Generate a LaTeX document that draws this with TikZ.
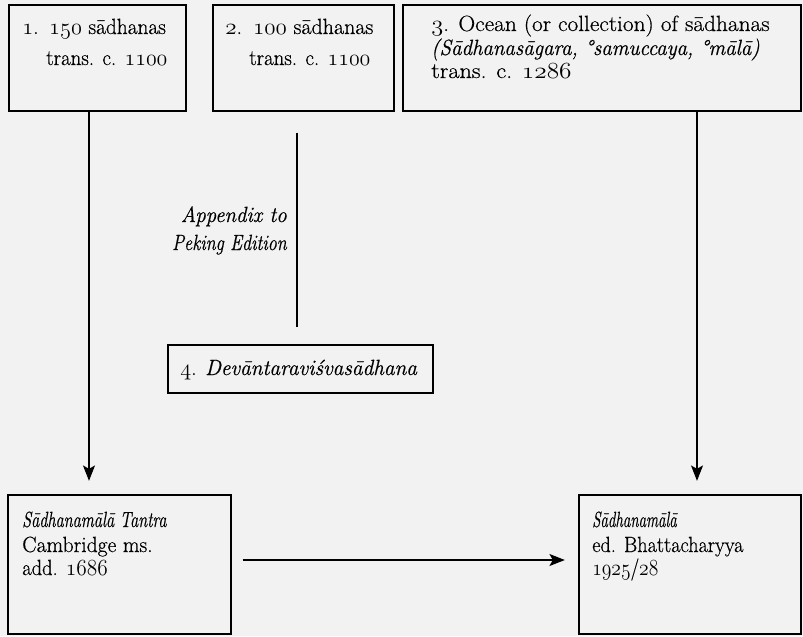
\documentclass[tikz,border=0pt]{standalone}
\usepackage{fontspec}
\usepackage{graphicx}
\setmainfont{Latin Modern Roman}[FakeBold=0.6]
\usetikzlibrary{arrows.meta,fit,calc}
\newcommand\osn[1]{{\usefont{OML}{lmm}{m}{it}#1}}
\newcommand\hsc[2]{\scalebox{#1}[1]{#2}}
\definecolor{pagebg}{RGB}{242,242,242}
\begin{document}
\begin{tikzpicture}[x=0.75pt,y=-0.75pt,
  box/.style={draw, line width=1.3pt, inner sep=0pt},
  txt/.style={inner sep=0pt, font=\fontsize{16.5}{19}\selectfont},
  arr/.style={line width=0.9pt, -{Stealth[length=11.5pt,width=9pt,inset=2.5pt]}},
  plain/.style={line width=0.9pt}]
\fill[pagebg] (0,0) rectangle (803,636);
\useasboundingbox (0,0) rectangle (803,636);
% boxes
\node[box, fit={(9,5) (186,111)}] (b1) {};
\node[box, fit={(213,5) (394,111)}] (b2) {};
\node[box, fit={(403,5) (801,111)}] (b3) {};
\node[box, fit={(168,345) (433,393)}] (b4) {};
\node[box, fit={(8,495) (231,634)}] (b5) {};
\node[box, fit={(579,495) (801,634)}] (b6) {};
% texts
\node[txt, anchor=base west] (t1a) at (22,34) {\hsc{0.97}{\osn{1}.\enspace\osn{150} sādhanas}};
\node[txt, anchor=base west] (t1b) at (46,65) {\hsc{0.95}{trans. c. \osn{1100}}};
\node[txt, anchor=base west] (t2a) at (225,34) {\osn{2}.\enspace\osn{100} sādhanas};
\node[txt, anchor=base west] (t2b) at (249,65) {\hsc{0.95}{trans. c. \osn{1100}}};
\node[txt, anchor=base west] (t3a) at (431,31) {\hsc{1.06}{\osn{3}. Ocean (or collection) of sādhanas}};
\node[txt, anchor=base west] (t3b) at (431,55) {\hsc{0.95}{\itshape (Sādhanasāgara, °samuccaya, °mālā)}};
\node[txt, anchor=base west] (t3c) at (431,78) {\hsc{1.1}{trans. c. \osn{1286}}};
\node[txt, anchor=base east] (ap1) at (287,222) {\hsc{0.95}{\itshape Appendix to}};
\node[txt, anchor=base east] (ap2) at (287,250) {\hsc{0.82}{\itshape Peking Edition}};
\node[txt, anchor=base west] (t4) at (180,375) {\hsc{0.97}{\osn{4}. \itshape Devāntaraviśvasādhana}};
\node[txt, anchor=base west] (t5a) at (22,527) {\hsc{0.74}{\itshape Sādhanamālā Tantra}};
\node[txt, anchor=base west] (t5b) at (22,552) {\hsc{0.98}{Cambridge ms.}};
\node[txt, anchor=base west] (t5c) at (22,575) {\hsc{0.93}{add. \osn{1686}}};
\node[txt, anchor=base west] (t6a) at (592,527) {\hsc{0.68}{\itshape Sādhanamālā}};
\node[txt, anchor=base west] (t6b) at (592,552) {\hsc{0.92}{ed. Bhattacharyya}};
\node[txt, anchor=base west] (t6c) at (592,575) {\hsc{0.85}{\osn{1925}/\osn{28}}};
% connectors
\coordinate (cl) at (89,300);
\coordinate (cm) at (297,300);
\coordinate (cr) at (697,300);
\coordinate (ch) at (400,560);
\draw[arr, shorten >=10pt] (b1.south -| cl) -- (b5.north -| cl);
\draw[plain, shorten <=15.5pt, shorten >=13pt] (b2.south -| cm) -- (b4.north -| cm);
\draw[arr, shorten >=10pt] (b3.south -| cr) -- (b6.north -| cr);
\draw[arr, shorten <=8pt, shorten >=10pt] (b5.east |- ch) -- (b6.west |- ch);
\end{tikzpicture}
\end{document}
